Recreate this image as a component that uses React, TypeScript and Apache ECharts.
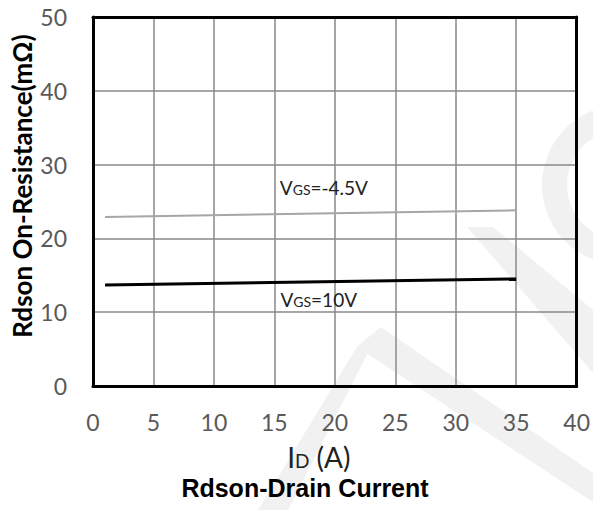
import React, { useEffect, useRef } from "react";
import * as echarts from "echarts";

const currentA = [1, 35];
const rdsonVgsM45 = [22.9, 23.8];
const rdsonVgs10 = [13.7, 14.5];
const xTicks = { min: 0, max: 40, interval: 5 };
const yTicks = { min: 0, max: 50, interval: 10 };
const labelM45 = { x: 15.45, y: 26.85 };
const label10 = { x: 15.5, y: 11.7 };

const WM = "#f1f1f1";

export default function App() {
  const ref = useRef<HTMLDivElement>(null);
  useEffect(() => {
    document.body.style.margin = "0";
    const chart = echarts.init(ref.current!, null, { renderer: "svg" });
    const tickFont = { color: "#595959", fontSize: 23, fontFamily: "Lato" };
    const rich = {
      v: { fontSize: 19, fontFamily: "Lato", color: "#222" },
      s: { fontSize: 14, fontFamily: "Lato", color: "#222", padding: [4, 0, 0, 0] },
    };
    chart.setOption({
      animation: false,
      backgroundColor: "#fff",
      title: {
        text: "Rdson-Drain Current",
        left: 300,
        textAlign: "center",
        top: 470,
        textStyle: { fontFamily: "Liberation Sans", fontWeight: "bold", fontSize: 25, color: "#000" },
      },
      graphic: [
        { type: "polygon", z: -10, shape: { points: [[258, 510], [288, 510], [381, 327], [357, 347]] }, style: { fill: WM } },
        { type: "polygon", z: -10, shape: { points: [[357, 347], [381, 327], [593, 473], [593, 502]] }, style: { fill: WM } },
        { type: "polygon", z: -10, shape: { points: [[467, 227], [493, 227], [593, 310], [593, 373]] }, style: { fill: WM } },
        { type: "ring", z: -10, shape: { cx: 622, cy: 185, r: 80, r0: 55 }, style: { fill: WM } },
        {
          type: "text",
          x: 22,
          y: 186,
          rotation: Math.PI / 2,
          style: {
            text: "Rdson On-Resistance(mΩ)",
            fontFamily: "Lato",
            fontWeight: "bold",
            fontSize: 26,
            fill: "#000",
            align: "center",
            verticalAlign: "middle",
          },
        },
      ],
      grid: { left: 93, right: 13, top: 17, bottom: 124, containLabel: false },
      xAxis: [
        {
          type: "value",
          ...xTicks,
          position: "bottom",
          name: "{i|I}{d|D}{i| (A)}",
          nameLocation: "middle",
          nameGap: 57,
          nameTextStyle: {
            padding: [0, 32, 0, 0],
            rich: {
              i: { fontSize: 28, fontFamily: "Lato", color: "#222" },
              d: { fontSize: 19, fontFamily: "Lato", color: "#222", padding: [7, 0, 0, 0] },
            },
          },
          axisLine: { show: false },
          axisTick: { show: false },
          axisLabel: { ...tickFont, margin: 24 },
          splitLine: { show: true, lineStyle: { color: "#888", width: 1.5 } },
        },
        {
          type: "value",
          ...xTicks,
          position: "top",
          axisLine: { show: true, onZero: false, lineStyle: { color: "#000", width: 3 } },
          axisTick: { show: false },
          axisLabel: { show: false },
          splitLine: { show: false },
        },
        {
          type: "value",
          ...xTicks,
          position: "bottom",
          axisLine: { show: true, onZero: false, lineStyle: { color: "#000", width: 3 } },
          axisTick: { show: false },
          axisLabel: { show: false },
          splitLine: { show: false },
        },
      ],
      yAxis: [
        {
          type: "value",
          ...yTicks,
          position: "left",
          axisLine: { show: false },
          axisTick: { show: false },
          axisLabel: { ...tickFont, margin: 26 },
          splitLine: { show: true, lineStyle: { color: "#888", width: 1.5 } },
        },
        {
          type: "value",
          ...yTicks,
          position: "right",
          axisLine: { show: true, onZero: false, lineStyle: { color: "#000", width: 3 } },
          axisTick: { show: false },
          axisLabel: { show: false },
          splitLine: { show: false },
        },
        {
          type: "value",
          ...yTicks,
          position: "left",
          axisLine: { show: true, onZero: false, lineStyle: { color: "#000", width: 3 } },
          axisTick: { show: false },
          axisLabel: { show: false },
          splitLine: { show: false },
        },
      ],
      series: [
        {
          type: "line",
          name: "VGS=-4.5V",
          data: currentA.map((x, i) => [x, rdsonVgsM45[i]]),
          showSymbol: false,
          lineStyle: { color: "#a6a6a6", width: 2 },
          z: 5,
          markPoint: {
            symbolSize: 0,
            data: [
              {
                coord: [labelM45.x, labelM45.y],
                label: { show: true, position: "right", distance: 0, formatter: "{v|V}{s|GS}{v|=-4.5V}", rich },
              },
            ],
          },
        },
        {
          type: "line",
          name: "VGS=10V",
          data: currentA.map((x, i) => [x, rdsonVgs10[i]]),
          showSymbol: false,
          lineStyle: { color: "#000", width: 3 },
          z: 5,
          markPoint: {
            symbolSize: 0,
            data: [
              {
                coord: [label10.x, label10.y],
                label: { show: true, position: "right", distance: 0, formatter: "{v|V}{s|GS}{v|=10V}", rich },
              },
            ],
          },
        },
      ],
    });
    return () => chart.dispose();
  }, []);
  return <div ref={ref} style={{ width: 593, height: 510 }} />;
}
